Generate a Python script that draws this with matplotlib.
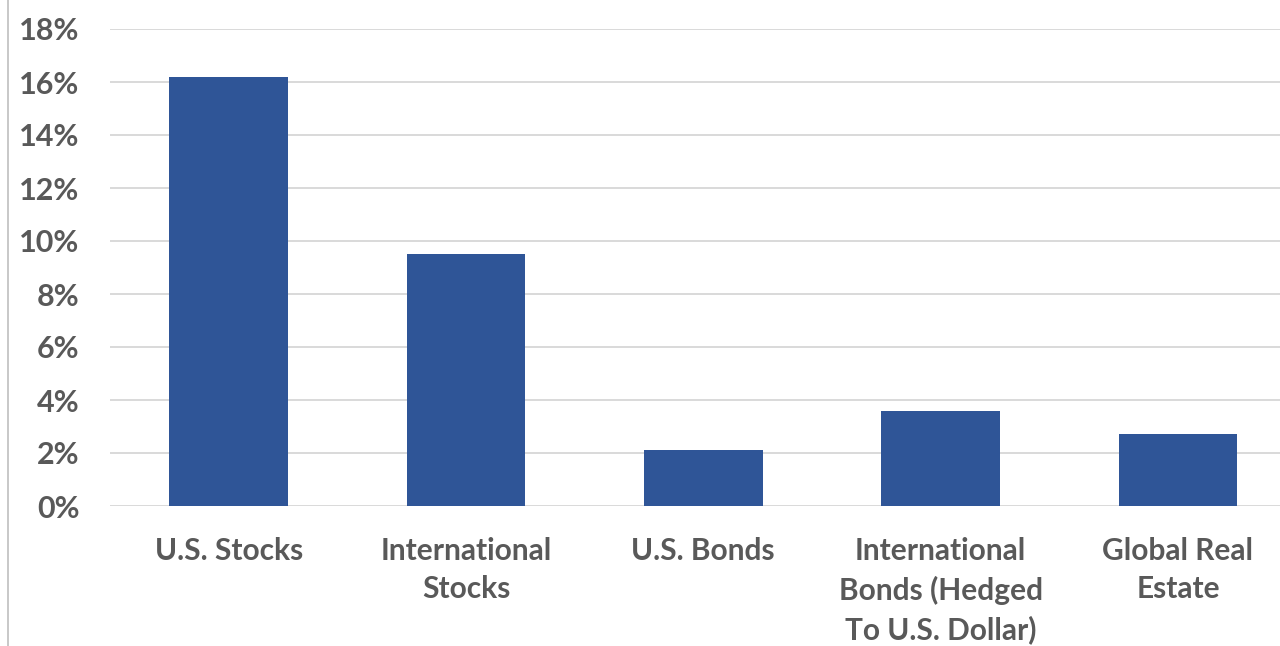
import matplotlib
matplotlib.use("Agg")
import matplotlib.pyplot as plt
from matplotlib.lines import Line2D
from matplotlib.ticker import FuncFormatter

categories = ["U.S. Stocks", "International\nStocks", "U.S. Bonds",
              "International\nBonds (Hedged\nTo U.S. Dollar)", "Global Real\nEstate"]
values = [16.2, 9.5, 2.1, 3.6, 2.7]
yticks = [0, 2, 4, 6, 8, 10, 12, 14, 16, 18]

plt.rcParams['font.family'] = ['Lato', 'DejaVu Sans']
text_color = "#595959"

fig = plt.figure(figsize=(12.8, 6.46), dpi=100)
ax = fig.add_axes([110/1280, (646-506)/646, 1170/1280, 477/646])

x = list(range(len(categories)))
ax.bar(x, values, width=0.5, color="#2F5597", zorder=3)

ax.set_ylim(0, 18)
ax.set_xlim(-0.5, 4.43)
ax.set_yticks(yticks)
ax.yaxis.set_major_formatter(FuncFormatter(lambda v, p: f"{v:.0f}%"))
ax.set_xticks(x)
ax.set_xticklabels(categories, linespacing=1.45)
ax.grid(axis='y', color="#d9d9d9", linewidth=1.4, zorder=0)
for s in ax.spines.values():
    s.set_visible(False)
ax.tick_params(axis='both', length=0, colors=text_color)
ax.tick_params(axis='y', pad=22, labelsize=22)
ax.tick_params(axis='x', pad=22, labelsize=21.5)
for lbl in ax.get_xticklabels() + ax.get_yticklabels():
    lbl.set_fontweight('bold')
    lbl.set_color(text_color)

fig.add_artist(Line2D([8/1280, 8/1280], [0, 1], transform=fig.transFigure,
                      color="#bfbfbf", linewidth=1.2))

fig.savefig("out.png", dpi=100)
